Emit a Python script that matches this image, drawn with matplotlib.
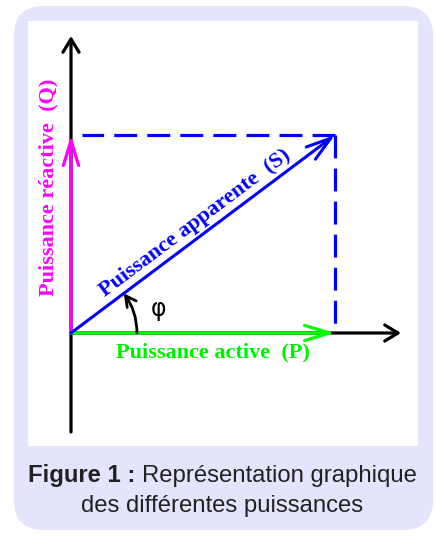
import matplotlib
matplotlib.use("Agg")
import matplotlib.pyplot as plt
from matplotlib.patches import FancyBboxPatch

# power triangle values (arbitrary units, S = 5)
P = 4.0          # puissance active
Q = 3.0          # puissance réactive
S = (P**2 + Q**2) ** 0.5
axis_x_end = 5.0
axis_y_range = (-1.5, 4.5)

label_P = "Puissance active  (P)"
label_Q = "Puissance réactive  (Q)"
label_S = "Puissance apparente  (S)"
label_phi = "φ"
caption_bold = "Figure 1 :"
caption_rest = "Représentation graphique"
caption_line2 = "des différentes puissances"

plt.rcParams['lines.scale_dashes'] = False
W, H = 436, 536
fig = plt.figure(figsize=(W / 100, H / 100), dpi=100)

# lavender rounded frame
bg = fig.add_axes([0, 0, 1, 1])
bg.set_xlim(0, W)
bg.set_ylim(0, H)
bg.axis('off')
bg.add_patch(FancyBboxPatch((14, 6), 419, 524,
                            boxstyle="round,pad=0,rounding_size=30",
                            fc='#e4e4fc', ec='none'))

# white diagram area, 66 px per unit
u = 66.0
ax = fig.add_axes([28 / W, 90 / H, 390 / W, 425 / H])
ax.set_xlim(-43 / u, 347 / u)
ax.set_ylim(-113 / u, 312 / u)
ax.set_facecolor('white')
for s in ax.spines.values():
    s.set_visible(False)
ax.set_xticks([])
ax.set_yticks([])


def arrow(p0, p1, color, style, lw=2.3, z=3, conn='arc3'):
    ax.annotate('', xy=p1, xytext=p0,
                arrowprops=dict(arrowstyle=style, color=color, lw=lw,
                                shrinkA=0, shrinkB=0, mutation_scale=10,
                                connectionstyle=conn),
                zorder=z)


axis_head = '->,head_length=0.95,head_width=0.58'
vec_head = '->,head_length=1.8,head_width=0.55'

# axes
arrow((0, axis_y_range[0]), (0, axis_y_range[1]), 'black', axis_head, z=2)
arrow((0, 0), (axis_x_end, 0), 'black', axis_head, z=2)

# dashed projections
dash = (0, (16.5, 7.3))
ax.plot([P, 0.17], [Q, Q], color='#0000ff', lw=2.3, ls=dash, zorder=2)
ax.plot([P, P], [Q, 0], color='#0000ff', lw=2.3, ls=dash, zorder=2)

# vectors
arrow((0, 0), (0, Q), '#ff00ff', vec_head)
arrow((0, 0), (P, 0), '#00ff00', vec_head)
arrow((0, 0), (P, Q), '#0000ff', vec_head, lw=2.2, z=4)

# angle phi (arc of radius 1 from P to S direction)
arrow((1.0, 0), (P / S, Q / S), 'black',
      '->,head_length=0.75,head_width=0.4', lw=2.0, z=5,
      conn='arc3,rad=0.16')

# labels
serif = dict(family='Liberation Serif', weight='bold', size=16)
ax.text(-0.34, 2.2, label_Q, color='#ff00ff', rotation=90,
        ha='center', va='center', **serif)
ax.text(P / 2 + 0.15, -0.3, label_P, color='#00ee00',
        ha='center', va='center', **serif)
nx, ny = -Q / S, P / S
ax.text(P / 2 + 0.2 * nx, Q / 2 + 0.2 * ny, label_S, color='#0000ff',
        rotation=36.87, rotation_mode='anchor',
        ha='center', va='center', **serif)
ax.text(1.32, 0.37, label_phi, color='black', family='DejaVu Sans',
        size=17, ha='center', va='center')

# caption
cap = dict(family='Liberation Sans', size=17.2, color='#222222')
fig.canvas.draw()
r = fig.canvas.get_renderer()
t1 = fig.text(0, 54 / H, caption_bold, weight='bold', **cap)
t2 = fig.text(0, 54 / H, caption_rest, **cap)
w1 = t1.get_window_extent(r).width
w2 = t2.get_window_extent(r).width
gap = 6
x0 = 222.5 - (w1 + gap + w2) / 2
t1.set_x(x0 / W)
t2.set_x((x0 + w1 + gap) / W)
fig.text(222.5 / W, 24 / H, caption_line2, ha='center', **cap)

fig.savefig('out.png', dpi=100)
